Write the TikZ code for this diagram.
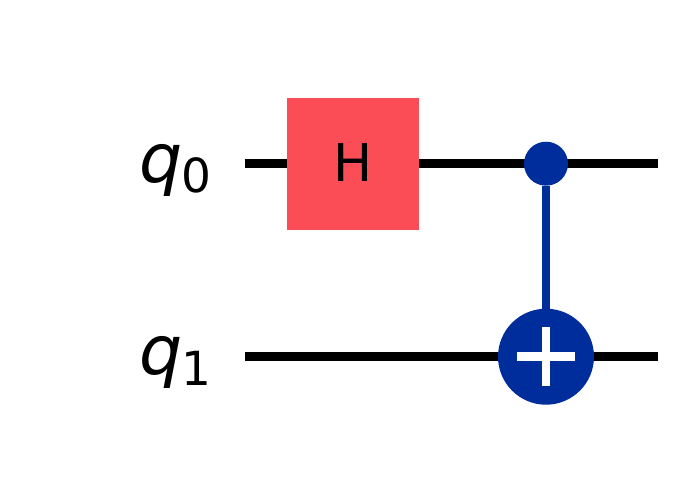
\documentclass[tikz,border=0pt]{standalone}
\usepackage{fontspec}
\setmainfont{DejaVu Sans}
\definecolor{qred}{HTML}{FA4D56}
\definecolor{qblue}{HTML}{002D9C}
\tikzset{x=1pt,y=-1pt,
wire/.style={line width=8.7pt,black},
ctrlline/.style={line width=8.7pt,qblue},
gatebox/.style={fill=qred,draw=none,minimum width=132.3pt,minimum height=132.3pt,inner sep=0pt,font=\fontsize{52}{52}\selectfont},
ctrldot/.style={circle,fill=qblue,draw=none,minimum size=44pt,inner sep=0pt},
targetdot/.style={circle,fill=qblue,draw=none,minimum size=96pt,inner sep=0pt},
plusbar/.style={line width=8.7pt,white},
qlabel/.style={inner sep=0pt,anchor=base east}}
\begin{document}
\begin{tikzpicture}
\useasboundingbox (0,0) rectangle (683,483);
\coordinate (w0s) at (244.7,163.7);
\coordinate (w0e) at (658.3,163.7);
\coordinate (w1s) at (244.7,356.7);
\coordinate (w1e) at (658.3,356.7);
\draw[wire] (w0s) -- (w0e);
\draw[wire] (w1s) -- (w1e);
\node[gatebox] (h) at (353,163.8) {\raisebox{3.5pt}{H}};
\node[ctrldot] (c) at (546,163.7) {};
\node[targetdot] (t) at (546,356.7) {};
\draw[ctrlline] (c) -- (t);
\coordinate (pl) at (516.7,356.7);
\coordinate (pr) at (575.3,356.7);
\coordinate (pt) at (546,327.4);
\coordinate (pb) at (546,386);
\draw[plusbar] (pl) -- (pr);
\draw[plusbar] (pt) -- (pb);
\node[qlabel] (q0) at (211.5,182) {\fontsize{68}{68}\selectfont\itshape q\kern-1.5pt\fontsize{47}{47}\selectfont\raisebox{-10.7pt}{\upshape 0}};
\node[qlabel] (q1) at (211.5,374.5) {\fontsize{68}{68}\selectfont\itshape q\kern-1.5pt\fontsize{47}{47}\selectfont\raisebox{-10.7pt}{\upshape 1}};
\end{tikzpicture}
\end{document}
